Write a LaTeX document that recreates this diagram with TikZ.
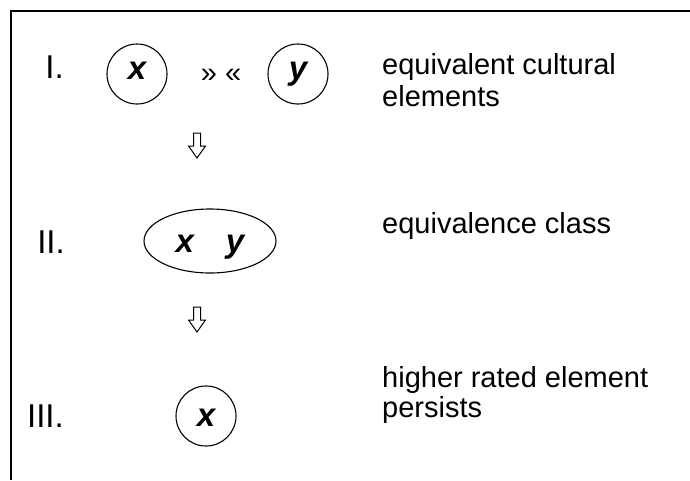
\documentclass[tikz,border=0pt]{standalone}
\usepackage{fontspec}
\setmainfont{Liberation Sans}
\usetikzlibrary{shapes.geometric}
\newcommand\hollowdown[2]{%
  \draw[downarrow] (#1-3.5,#2) -- (#1+3.5,#2) -- (#1+3.5,#2+13) -- (#1+8.5,#2+13)
    -- (#1,#2+25) -- (#1-8.5,#2+13) -- (#1-3.5,#2+13) -- cycle;}
\begin{document}
\begin{tikzpicture}[x=1pt,y=-1pt,
  frame/.style={line width=2.2pt},
  elem/.style={draw,line width=1.1pt,circle,minimum size=60pt,inner sep=0pt,
    font=\fontsize{33}{36}\selectfont\bfseries\itshape,text depth=0pt},
  cls/.style={draw,line width=1.1pt,ellipse,minimum width=132pt,minimum height=64pt,inner sep=0pt,
    font=\fontsize{33}{36}\selectfont\bfseries\itshape,text depth=0pt},
  stage/.style={font=\fontsize{33}{36}\selectfont,anchor=base east,inner sep=0pt},
  desc/.style={font=\fontsize{29}{31}\selectfont,anchor=base west,inner sep=0pt},
  rel/.style={font=\fontsize{29}{31}\selectfont,anchor=base,inner sep=0pt},
  downarrow/.style={draw,line width=1pt,fill=white,line join=miter}
]
\useasboundingbox (0,0) rectangle (690,480);
\coordinate (fbl) at (11,480);
\coordinate (ftl) at (11,11);
\coordinate (ftr) at (690,11);
\draw[frame] (fbl) -- (ftl) -- (ftr);

% stage labels
\node[stage] (s1) at (64,78) {I.};
\node[stage] (s2) at (65,253) {II.};
\node[stage] (s3) at (64,427) {III.};

% row I
\node[elem,text height=10pt] (x1) at (137,74) {x};
\node[rel] (eq) at (221,82) {» «};
\node[elem,text height=10pt] (y1) at (298,74) {y};

% row II
\node[cls,text height=22pt] (xy) at (210,241) {x\hspace{32pt}y};

% row III
\node[elem,text height=21pt] (x3) at (206,416) {x};

% arrows
\hollowdown{197}{133}
\hollowdown{197}{307}

% descriptions
\node[desc] (d1a) at (382,74) {equivalent cultural};
\node[desc] (d1b) at (382,106) {elements};
\node[desc] (d2) at (382,233) {equivalence class};
\node[desc] (d3a) at (382,387) {higher rated element};
\node[desc] (d3b) at (382,417) {persists};
\end{tikzpicture}
\end{document}
